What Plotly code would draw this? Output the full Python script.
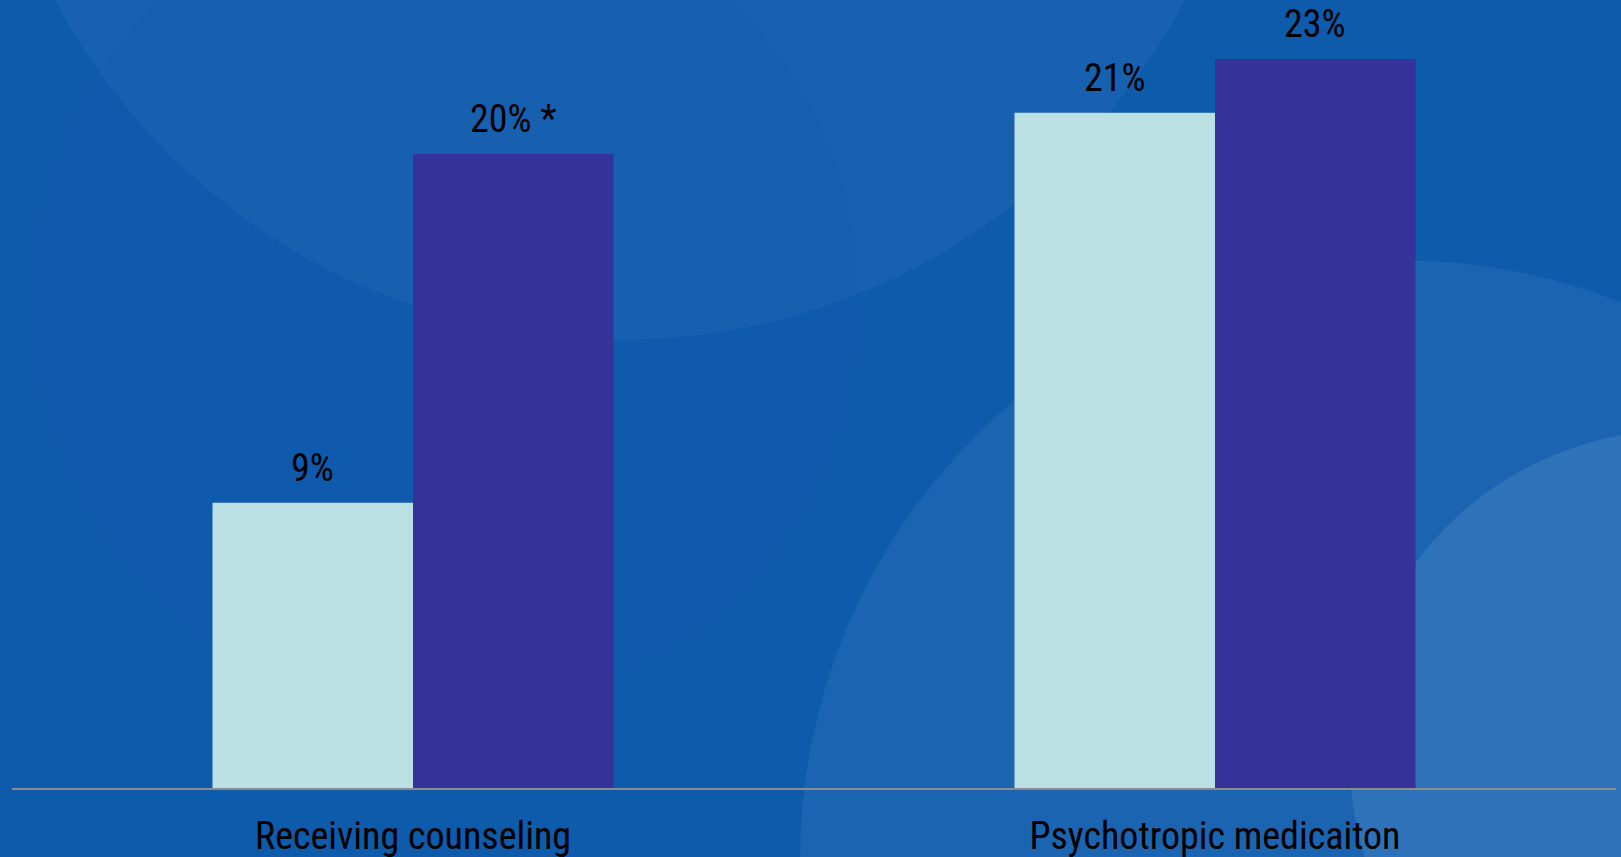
import plotly.graph_objects as go

categories = ["Receiving counseling", "Psychotropic medicaiton"]
series_a_values = [9, 21.3]
series_b_values = [20, 23]
series_a_labels = ["9%", "21%"]
series_b_labels = ["20% *", "23%"]

W, H = 1621, 857
ML, MR, MT, MB = 12, 5, 0, 69
FONT = "Roboto Condensed, Liberation Sans Narrow, Arial Narrow, Roboto, sans-serif"

fig = go.Figure()
fig.add_trace(go.Bar(x=categories, y=series_a_values, marker=dict(color="#BAE0E3", line=dict(width=0)),
                     hoverinfo="skip", offsetgroup="a"))
fig.add_trace(go.Bar(x=categories, y=series_b_values, marker=dict(color="#35329A", line=dict(width=0)),
                     hoverinfo="skip", offsetgroup="b"))

bargap = 0.5
bw = (1 - bargap) / 2
annotations = []
for i, cat in enumerate(categories):
    for off, vals, labs in ((-bw / 2, series_a_values, series_a_labels), (bw / 2, series_b_values, series_b_labels)):
        annotations.append(dict(x=i + off, y=vals[i], xref="x", yref="y", text=labs[i], showarrow=False,
                                yanchor="bottom", yshift=11, font=dict(size=38, color="#000000", family=FONT)))

pw = W - ML - MR
ph = H - MT - MB
def px2paper(x, y):
    return (x - ML) / pw, (H - MB - y) / ph

def circle(cx, cy, r, color):
    x0, y0 = px2paper(cx - r, cy + r)
    x1, y1 = px2paper(cx + r, cy - r)
    return dict(type="circle", xref="paper", yref="paper", x0=x0, y0=y0, x1=x1, y1=y1,
                fillcolor=color, line=dict(width=0), layer="below")

shapes = [
    circle(620, -300, 640, "rgba(120,170,225,0.10)"),
    circle(445, 300, 415, "rgba(20,95,180,0.18)"),
    circle(1400, 860, 600, "rgba(120,170,225,0.12)"),
    circle(1680, 760, 330, "rgba(150,190,235,0.16)"),
]

fig.update_layout(
    width=W, height=H,
    margin=dict(l=ML, r=MR, t=MT, b=MB),
    paper_bgcolor="#0E5AAB", plot_bgcolor="rgba(0,0,0,0)",
    barmode="group", bargap=bargap, bargroupgap=0,
    showlegend=False,
    annotations=annotations,
    shapes=shapes,
    xaxis=dict(showgrid=False, showline=True, linecolor="#8C8C8C", linewidth=2, ticks="",
               ticklabelstandoff=13,
               tickfont=dict(size=38, color="#000000", family=FONT), fixedrange=True),
    yaxis=dict(range=[0, 24.86], visible=False, showgrid=False, zeroline=False, fixedrange=True),
)

fig.write_html("out.html", config={"displayModeBar": False})
